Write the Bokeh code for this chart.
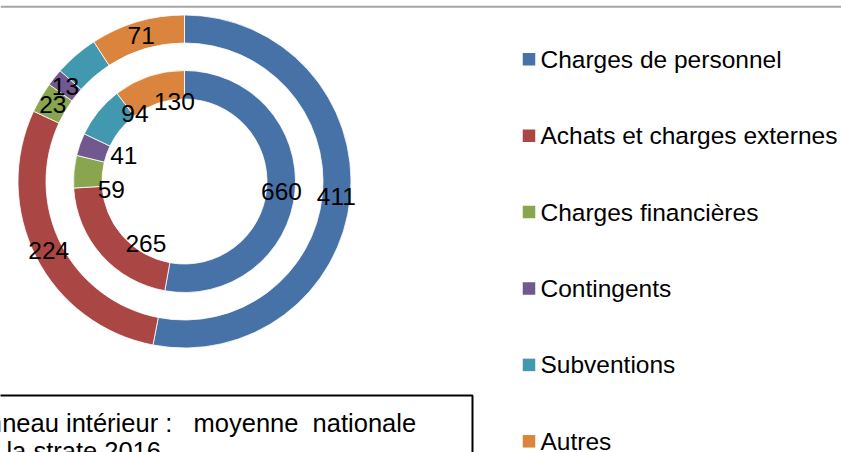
import math
from bokeh.plotting import figure
from bokeh.models import Range1d
from bokeh.core.properties import value
from bokeh.embed import file_html
from bokeh.resources import INLINE

# ---- data ----
categories = ["Charges de personnel", "Achats et charges externes", "Charges financières",
              "Contingents", "Subventions", "Autres"]
inner_values = [660, 265, 59, 41, 94, 130]      # moyenne nationale de la strate 2016
outer_values = [411, 224, 23, 13, 33, 71]
outer_shown = [True, True, True, True, False, True]
note_lines = ["Anneau intérieur :\u00a0\u00a0\u00a0moyenne\u00a0\u00a0nationale", "de la strate 2016"]

# ---- style ----
colors = ["#4672A8", "#AA4643", "#89A54E", "#71588F", "#4198AF", "#DB843D"]
FONT = "Liberation Sans"
FS = "24.5px"
CX, CY = 184, -181
R_OUT = (138.5, 166.5)
R_IN = (82.5, 111.0)
# manual label nudges for the inner ring (px: right, down)
inner_nudge = [(0.6, 1.6), (33.7, -1.9), (23.2, 17.1), (30.5, 6.6), (25.7, -6.8), (20.9, 11.3)]

W, H = 841, 452
p = figure(width=W, height=H, output_backend="svg", toolbar_location=None,
           x_range=Range1d(0, W), y_range=Range1d(-H, 0),
           min_border=0, outline_line_color=None)
p.axis.visible = False
p.grid.visible = False
p.background_fill_color = "white"
p.border_fill_color = "white"


def ring(values, radii, shown, nudge):
    total = float(sum(values))
    cum = [0.0]
    for v in values:
        cum.append(cum[-1] + v / total)
    starts = [math.pi / 2 - 2 * math.pi * c for c in cum[:-1]]
    ends = [math.pi / 2 - 2 * math.pi * c for c in cum[1:]]
    p.annular_wedge(x=CX, y=CY, inner_radius=radii[0], outer_radius=radii[1],
                    start_angle=starts, end_angle=ends, direction="clock",
                    fill_color=colors, line_color="white", line_width=0.8)
    rm = (radii[0] + radii[1]) / 2
    xs, ys, ts = [], [], []
    for i, v in enumerate(values):
        if not shown[i]:
            continue
        mid = (cum[i] + cum[i + 1]) / 2
        th = math.pi / 2 - 2 * math.pi * mid
        dx, dy = nudge[i]
        xs.append(CX + rm * math.cos(th) + dx)
        ys.append(CY + rm * math.sin(th) - dy)
        ts.append(str(v))
    p.text(x=xs, y=ys, text=ts, text_align="center", text_baseline="middle",
           text_font=value(FONT), text_font_size=FS, text_color="black")


ring(outer_values, R_OUT, outer_shown, [(0, 0)] * 6)
ring(inner_values, R_IN, [True] * 6, inner_nudge)

# legend
LX, LY0, LSTEP = 528.5, -58.8, 76.4
ly = [LY0 - i * LSTEP for i in range(len(categories))]
p.rect(x=[LX] * len(categories), y=ly, width=12.5, height=12.5, fill_color=colors, line_color=None)
p.text(x=[540] * len(categories), y=ly, text=categories,
       text_align="left", text_baseline="middle",
       text_font=value(FONT), text_font_size=FS, text_color="black")

# top rule
p.line(x=[0, 860], y=[-6.3, -6.3], line_color="#A6A6A6", line_width=2)

# note box
p.line(x=[-20, 472, 472], y=[-395, -395, -470], line_color="black", line_width=2)
p.text(x=[-29.5, -29.5], y=[-422.5, -450], text=note_lines, text_align="left",
       text_baseline="middle", text_font=value(FONT), text_font_size="25.5px", text_color="black")

open("out.html", "w").write(file_html(p, INLINE))
